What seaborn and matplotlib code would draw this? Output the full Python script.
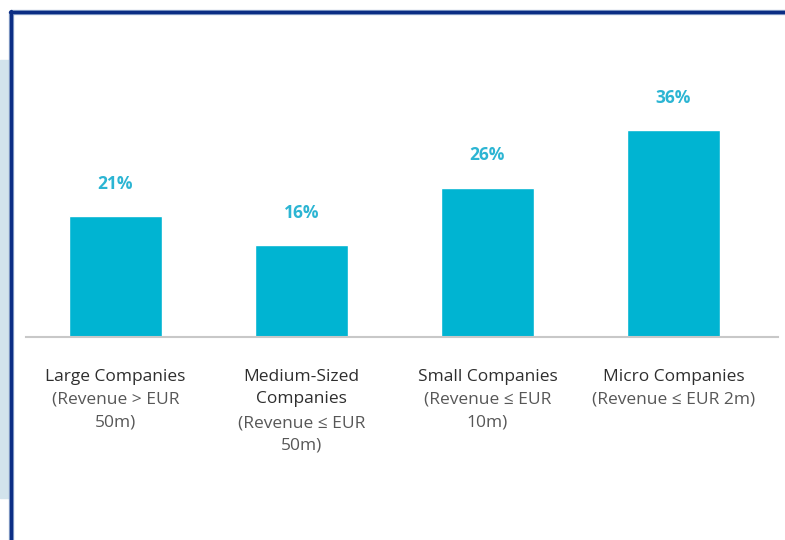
import matplotlib
matplotlib.use('Agg')
import matplotlib.pyplot as plt
import matplotlib.transforms as mtransforms
from matplotlib.patches import Rectangle
from matplotlib.lines import Line2D
import seaborn as sns

categories = ['Large', 'Medium', 'Small', 'Micro']
values = [21, 16, 26, 36]
name_labels = ['Large Companies', 'Medium-Sized\nCompanies', 'Small Companies', 'Micro Companies']
revenue_labels = ['(Revenue > EUR\n50m)', '(Revenue ≤ EUR\n50m)', '(Revenue ≤ EUR\n10m)', '(Revenue ≤ EUR 2m)']

bar_color = '#00b4d2'
label_color = '#2cb5d3'

sns.set_style('white')
plt.rcParams['font.family'] = ['Open Sans', 'DejaVu Sans']

W, H = 785, 540
fig = plt.figure(figsize=(W / 100, H / 100), dpi=100)

# light blue strip on the left and the dark blue frame
fig.patches.append(Rectangle((0, 1 - 498 / H), 9 / W, (498 - 60) / H,
                             transform=fig.transFigure, color='#d2e3ec', zorder=0))
fig.lines.append(Line2D([11 / W, 1], [1 - 12 / H, 1 - 12 / H], transform=fig.transFigure,
                        color='#8fa6cc', lw=3.8))
fig.lines.append(Line2D([11 / W, 11 / W], [0, 1 - 12 / H], transform=fig.transFigure,
                        color='#8fa6cc', lw=3.8))
fig.lines.append(Line2D([10 / W, 1], [1 - 12 / H, 1 - 12 / H], transform=fig.transFigure,
                        color='#0b2d84', lw=2.4))
fig.lines.append(Line2D([11 / W, 11 / W], [0, 1 - 11 / H], transform=fig.transFigure,
                        color='#0b2d84', lw=2.4))

base_y = 337
top_y = 60
ax = fig.add_axes([26 / W, (H - base_y) / H, (778 - 26) / W, (base_y - top_y) / H])
ax.patch.set_alpha(0)

sns.barplot(x=categories, y=values, color=bar_color, width=0.5, saturation=1, ax=ax)

ax.set_xlim(-0.481, 3.562)
ax.set_ylim(0, (base_y - top_y) / 5.75)
for s in ['top', 'right', 'left']:
    ax.spines[s].set_visible(False)
ax.spines['bottom'].set_color('#c8c8c8')
ax.spines['bottom'].set_linewidth(1.5)
ax.set_xticks([])
ax.set_yticks([])
ax.set_xlabel('')
ax.set_ylabel('')

for i, v in enumerate(values):
    ax.annotate(f'{v}%', (i, v), xytext=(0, 23), textcoords='offset pixels',
                ha='center', va='bottom', fontsize=12.5, fontweight='bold', color=label_color)

trans = ax.get_xaxis_transform()
y0 = -(369 - base_y) / (base_y - top_y)
line_h = 23
for i in range(len(categories)):
    ax.text(i, y0, name_labels[i], transform=trans, ha='center', va='top',
            fontsize=12.5, color='#2e2e2e', linespacing=1.52)
    n = name_labels[i].count('\n') + 1
    off = mtransforms.offset_copy(trans, fig=fig, y=-line_h * n, units='dots')
    ax.text(i, y0, revenue_labels[i], transform=off, ha='center', va='top',
            fontsize=12.5, color='#575757', linespacing=1.52)

fig.savefig('out.png', dpi=100)
